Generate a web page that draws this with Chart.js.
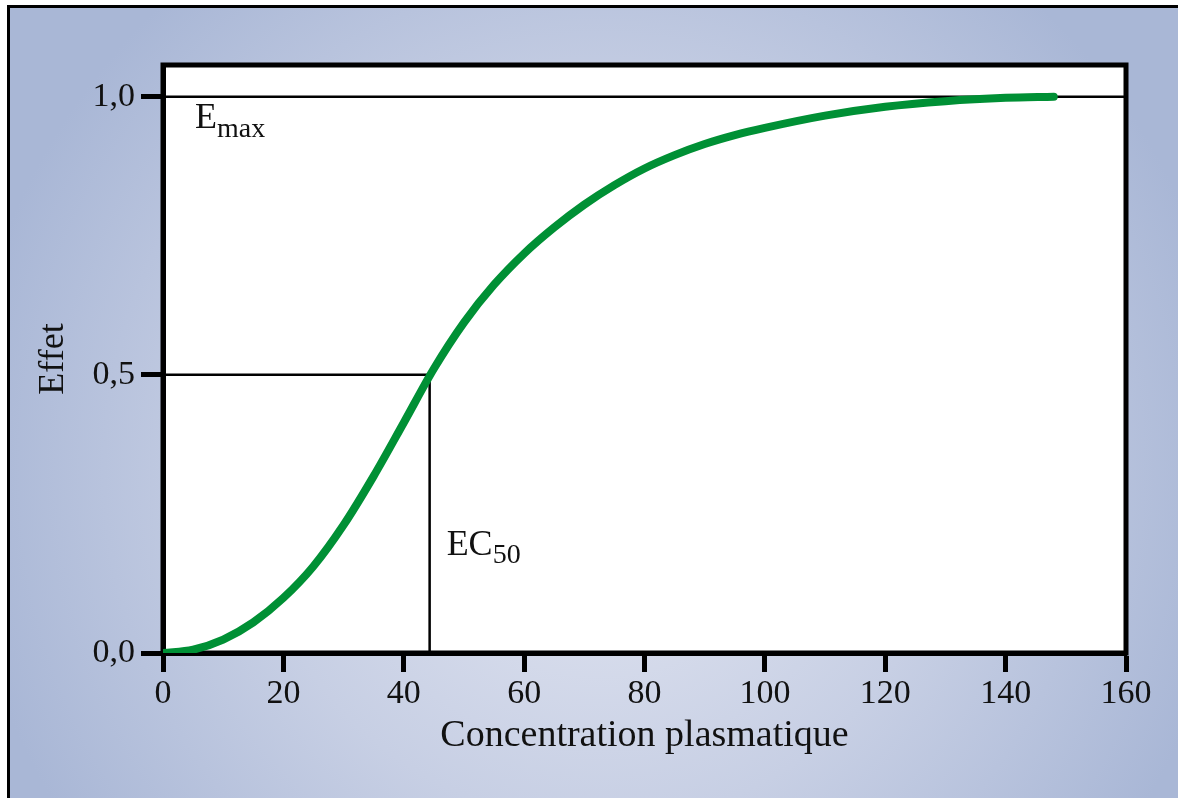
<!DOCTYPE html>
<html>
<head>
<meta charset="utf-8">
<script src="https://cdn.jsdelivr.net/npm/chart.js@4"></script>
<style>
  body { margin: 0; background: #fff; }
  canvas { display: block; }
</style>
</head>
<body>
<canvas id="myChart" width="1178" height="798"></canvas>
<script>
// dose-response curve
var concentration = [0, 5, 10, 15, 20, 25, 30, 35, 40, 45, 50, 55, 60, 65, 70, 75, 80, 85, 90, 95, 100, 110, 120, 130, 140, 148];
var effect = [0, 0.006, 0.024, 0.055, 0.099, 0.156, 0.23, 0.318, 0.414, 0.511, 0.594, 0.662, 0.718, 0.765, 0.806, 0.841, 0.871, 0.895, 0.915, 0.931, 0.944, 0.966, 0.982, 0.992, 0.998, 1.0];
var ec50 = 44.3;
var emax = 1.0;
var xTicks = [0, 20, 40, 60, 80, 100, 120, 140, 160];
var yTicks = [0, 0.5, 1.0];

var serif = '"Liberation Serif", "Times New Roman", serif';

var curve = concentration.map(function (c, i) { return { x: c, y: effect[i] }; });
var emaxLine = [{ x: xTicks[0], y: emax }, { x: xTicks[xTicks.length - 1], y: emax }];
var ec50Line = [{ x: 0, y: emax / 2 }, { x: ec50, y: emax / 2 }, { x: ec50, y: 0 }];

var backdrop = {
    id: 'backdrop',
    beforeDraw: function (chart) {
        var c = chart.ctx, w = chart.width, h = chart.height, a = chart.chartArea;
        c.save();
        c.fillStyle = '#fff';
        c.fillRect(0, 0, w, h);
        var g = c.createRadialGradient(600, 470, 0, 600, 470, 640);
        g.addColorStop(0, '#e4e7f2');
        g.addColorStop(0.55, '#c7cfe4');
        g.addColorStop(1, '#a9b7d6');
        c.fillStyle = g;
        c.fillRect(8, 6, w, h);
        // outer frame (left and top only)
        c.strokeStyle = '#000';
        c.lineWidth = 3;
        c.beginPath();
        c.moveTo(8.5, h);
        c.lineTo(8.5, 6.5);
        c.lineTo(w, 6.5);
        c.stroke();
        c.fillStyle = '#fff';
        c.fillRect(a.left, a.top, a.right - a.left, a.bottom - a.top);
        c.restore();
    },
    beforeDatasetsDraw: function (chart) {
        var c = chart.ctx, a = chart.chartArea;
        c.save();
        c.strokeStyle = '#000';
        c.lineWidth = 5;
        c.strokeRect(a.left, a.top, a.right - a.left, a.bottom - a.top);
        c.restore();
    },
    afterDraw: function (chart) {
        var c = chart.ctx, xs = chart.scales.x, ys = chart.scales.y;
        c.save();
        c.fillStyle = '#111';
        c.textBaseline = 'alphabetic';
        // E max label below the Emax line
        var ex = xs.getPixelForValue(0) + 32, ey = ys.getPixelForValue(emax) + 31;
        c.font = '36px ' + serif;
        c.fillText('E', ex, ey);
        var ew = c.measureText('E').width;
        c.font = '28px ' + serif;
        c.fillText('max', ex + ew, ey + 9);
        // EC50 label right of the vertical line
        var cx = xs.getPixelForValue(ec50) + 17, cy = ys.getPixelForValue(0) - 98;
        c.font = '36px ' + serif;
        c.fillText('EC', cx, cy);
        var cw = c.measureText('EC').width;
        c.font = '28px ' + serif;
        c.fillText('50', cx + cw, cy + 8);
        c.restore();
    }
};

var ctx = document.getElementById('myChart').getContext('2d');
var chart = new Chart(ctx, {
    type: 'line',
    data: {
        datasets: [
            {
                label: 'Effet',
                data: curve,
                borderColor: '#009035',
                borderWidth: 8,
                borderCapStyle: 'round',
                pointRadius: 0,
                cubicInterpolationMode: 'monotone',
                fill: false,
                order: 0
            },
            {
                label: 'Emax',
                data: emaxLine,
                borderColor: '#000',
                borderWidth: 2.5,
                pointRadius: 0,
                fill: false,
                order: 1
            },
            {
                label: 'EC50',
                data: ec50Line,
                borderColor: '#000',
                borderWidth: 2.5,
                pointRadius: 0,
                fill: false,
                order: 2
            }
        ]
    },
    options: {
        responsive: false,
        animation: false,
        devicePixelRatio: 1,
        layout: { padding: { left: 28, right: 52, top: 65, bottom: 35 } },
        plugins: { legend: { display: false }, tooltip: { enabled: false } },
        scales: {
            x: {
                type: 'linear',
                min: 0,
                max: 160,
                afterFit: function (s) { s.height = 110; },
                afterBuildTicks: function (s) { s.ticks = xTicks.map(function (v) { return { value: v }; }); },
                grid: { drawOnChartArea: false, tickLength: 19, tickWidth: 5, tickColor: '#000' },
                border: { color: '#000', width: 5 },
                ticks: { color: '#111', padding: 2, font: { family: serif, size: 34 }, maxRotation: 0 },
                title: { display: true, text: 'Concentration plasmatique', color: '#111', font: { family: serif, size: 38 } }
            },
            y: {
                type: 'linear',
                min: 0,
                max: 1.057,
                afterFit: function (s) { s.width = 135; },
                afterBuildTicks: function (s) { s.ticks = yTicks.map(function (v) { return { value: v }; }); },
                grid: { drawOnChartArea: false, tickLength: 22, tickWidth: 5, tickColor: '#000' },
                border: { color: '#000', width: 5 },
                ticks: {
                    color: '#111',
                    padding: 6,
                    font: { family: serif, size: 34 },
                    callback: function (v) { return v.toFixed(1).replace('.', ','); }
                },
                title: { display: true, text: 'Effet', color: '#111', font: { family: serif, size: 36 } }
            }
        }
    },
    plugins: [backdrop]
});
</script>
</body>
</html>
